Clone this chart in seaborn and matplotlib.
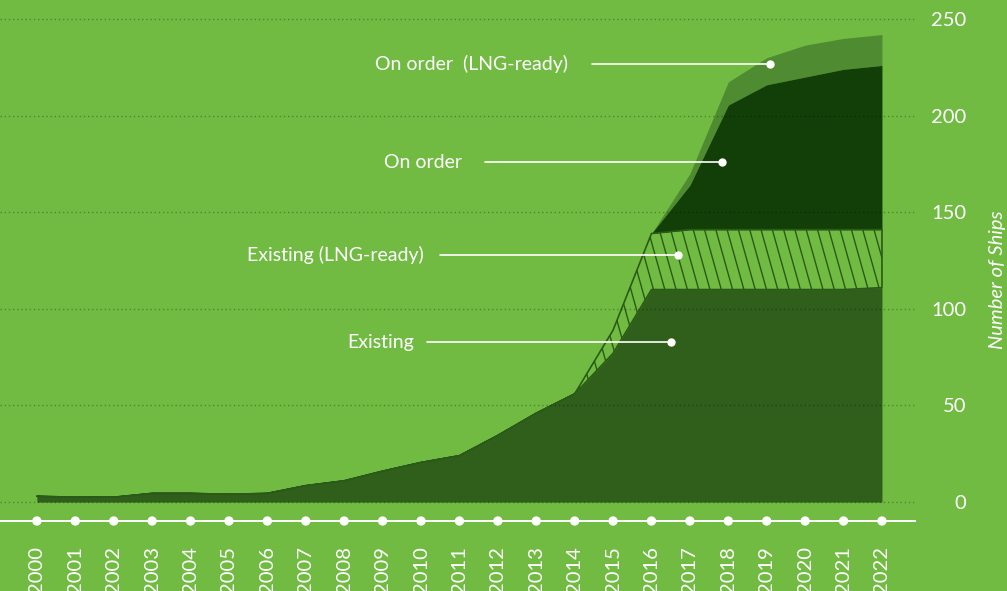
import numpy as np
import matplotlib
matplotlib.use("Agg")
import matplotlib.pyplot as plt
from matplotlib.collections import LineCollection
import seaborn as sns

# ---- data: number of LNG-fuelled ships per year ----
years = list(range(2000, 2023))
existing = [3, 2.5, 2.5, 4.5, 4.5, 4, 4.5, 8.5, 11, 16, 20.5, 24, 34.5,
            46, 56, 77, 110, 110, 110, 110, 110, 110, 111]
existing_lng_ready = [0] * 15 + [12, 29, 31, 31, 31, 31, 31, 30]
on_order = [0] * 17 + [23, 64.5, 75, 79, 83, 85]
on_order_lng_ready = [0] * 17 + [6, 12, 14, 16.5, 16, 16]

y_ticks = [0, 50, 100, 150, 200, 250]
y_label = "Number of Ships"

# callouts: (label, text right edge, line start, dot position, value)
callouts = [
    ("On order  (LNG-ready)", 2013.82, 2014.45, 2019.08, 226.7),
    ("On order", 2011.06, 2011.66, 2017.83, 176.0),
    ("Existing (LNG-ready)", 2010.08, 2010.49, 2016.69, 127.8),
    ("Existing", 2009.82, 2010.15, 2016.51, 82.8),
]

# ---- colours ----
BG = "#71bb43"
C_EXIST = "#2f5f1b"
C_HATCH = "#2a5a17"
C_ORDER = "#123f07"
C_ORDER_LNG = "#4f8b30"
WHITE = "#ffffff"

sns.set_theme(style="white")
plt.rcParams["font.family"] = ["Lato", "DejaVu Sans"]

fig = plt.figure(figsize=(10.07, 5.91), dpi=100, facecolor=BG)
ax = fig.add_axes([0, 70 / 591, 915 / 1007, 511 / 591])
ax.set_facecolor(BG)

x = np.array(years, dtype=float)
e = np.array(existing, dtype=float)
el = e + np.array(existing_lng_ready)
oo = el + np.array(on_order)
ol = oo + np.array(on_order_lng_ready)

ax.fill_between(x, oo, ol, facecolor=C_ORDER_LNG, lw=0, zorder=1)
ax.fill_between(x, el, oo, facecolor=C_ORDER, lw=0, zorder=1)
ax.fill_between(x, 0, e, facecolor=C_EXIST, lw=0, zorder=1)
hp = ax.fill_between(x, e, el, facecolor="none", edgecolor=C_HATCH,
                     lw=1.2, zorder=1.3)

ax.set_xlim(1999.04, 2022.86)
ax.set_ylim(-9.8, 254.7)

# steep diagonal hatch inside the LNG-ready existing band
spacing = 0.113
lean = 0.28
segs = [[(x0, 0.0), (x0 - lean * 5.91, 5.91)]
        for x0 in np.arange(-2.0, 12.0, spacing)]
lc = LineCollection(segs, colors=C_HATCH, linewidths=1.0,
                    transform=fig.dpi_scale_trans, zorder=1.2)
lc.set_clip_path(hp.get_paths()[0], ax.transData)
ax.add_collection(lc, autolim=False)

# dotted horizontal grid
ax.set_yticks(y_ticks)
ax.yaxis.grid(True, color="black", alpha=0.28, linestyle=(0, (1, 2)), lw=1.0)
ax.xaxis.grid(False)
ax.set_axisbelow(False)

for side in ("top", "left", "right"):
    ax.spines[side].set_visible(False)
ax.spines["bottom"].set_color(WHITE)
ax.spines["bottom"].set_linewidth(1.4)

# year markers on the baseline
sns.scatterplot(x=years, y=[ax.get_ylim()[0]] * len(years), ax=ax,
                color=WHITE, s=45, edgecolor="none", clip_on=False, zorder=5,
                legend=False)

ax.set_xticks(years)
ax.set_xticklabels([str(y) for y in years], rotation=90, color=WHITE,
                   fontsize=14.5)
ax.tick_params(axis="x", length=0, pad=18)

ax.yaxis.tick_right()
ax.tick_params(axis="y", length=0, pad=37, labelright=True, labelleft=False,
               labelsize=14.5, labelcolor=WHITE)
for lab in ax.get_yticklabels():
    lab.set_horizontalalignment("right")

ax.set_xlabel("")
ax.set_ylabel("")

# callout lines with labels
for text, x_text, x_start, x_dot, val in callouts:
    ax.plot([x_start, x_dot], [val, val], color=WHITE, lw=1.2, zorder=6)
    ax.plot([x_dot], [val], marker="o", color=WHITE, markersize=5,
            zorder=7)
    ax.text(x_text, val, text, color=WHITE, fontsize=14,
            ha="right", va="center", zorder=7)

fig.text(997 / 1007, 1 - 280 / 591, y_label, rotation=90, style="italic",
         color=WHITE, fontsize=14.5, ha="center", va="center")

fig.savefig("out.png", dpi=100, facecolor=BG)
